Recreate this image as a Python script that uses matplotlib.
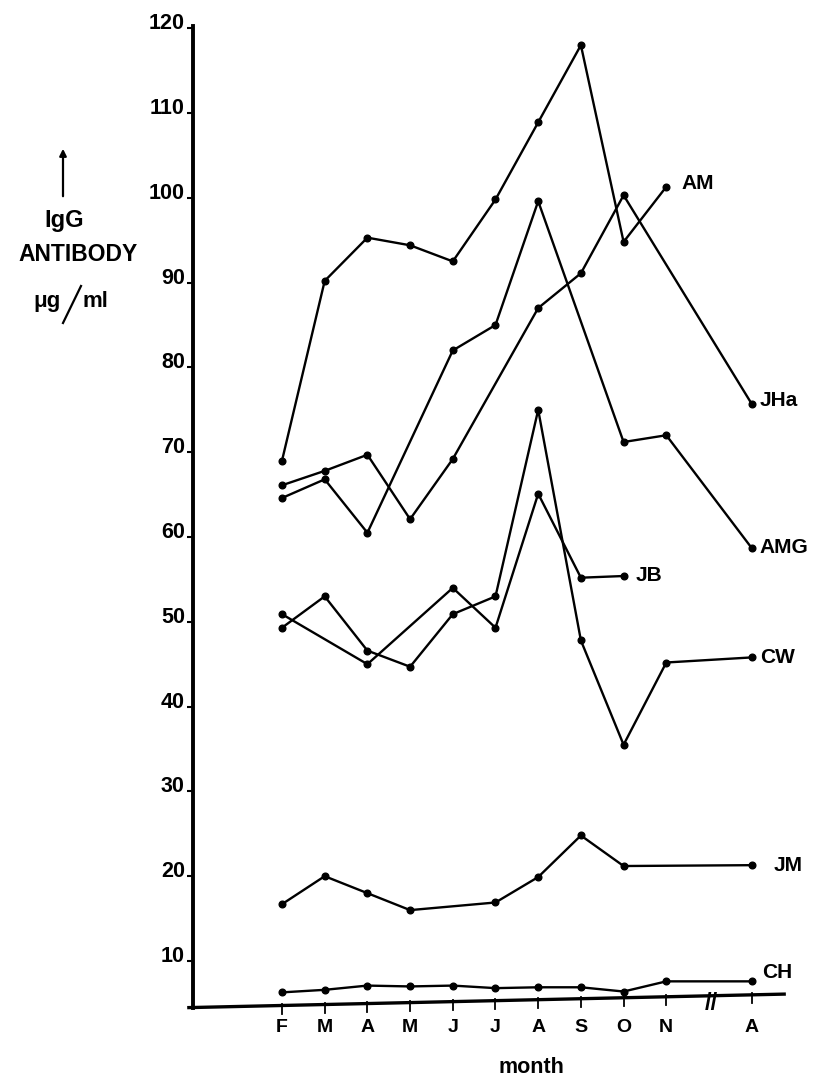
import matplotlib
matplotlib.use("Agg")
import matplotlib.pyplot as plt
from matplotlib.transforms import ScaledTranslation

plt.rcParams['font.family'] = ['Liberation Sans', 'DejaVu Sans']
plt.rcParams['font.weight'] = 'bold'

# ---- data ----
month_labels = ["F", "M", "A", "M", "J", "J", "A", "S", "O", "N", "A"]
month_pos = [0, 1, 2, 3, 4, 5, 6, 7, 8, 9, 11]
y_ticks = [10, 20, 30, 40, 50, 60, 70, 80, 90, 100, 110, 120]

am_x = [0, 1, 2, 3, 4, 5, 6, 7, 8, 9]
am_y = [69.0, 90.2, 95.3, 94.4, 92.5, 99.8, 108.9, 118.0, 94.8, 101.3]
jha_x = [0, 1, 2, 3, 4, 6, 7, 8, 11]
jha_y = [66.1, 67.8, 69.7, 62.1, 69.2, 87.0, 91.1, 100.3, 75.7]
amg_x = [0, 1, 2, 4, 5, 6, 8, 9, 11]
amg_y = [64.6, 66.8, 60.5, 82.0, 85.0, 99.6, 71.2, 72.0, 58.7]
jb_x = [0, 2, 4, 5, 6, 7, 8]
jb_y = [50.9, 45.0, 54.0, 49.3, 65.1, 55.2, 55.4]
cw_x = [0, 1, 2, 3, 4, 5, 6, 7, 8, 9, 11]
cw_y = [49.3, 53.0, 46.6, 44.7, 50.9, 53.0, 75.0, 47.8, 35.5, 45.2, 45.8]
jm_x = [0, 1, 2, 3, 5, 6, 7, 8, 11]
jm_y = [16.7, 20.0, 18.0, 16.0, 16.9, 19.9, 24.8, 21.2, 21.3]
ch_x = [0, 1, 2, 3, 4, 5, 6, 7, 8, 9, 11]
ch_y = [6.3, 6.6, 7.1, 7.0, 7.1, 6.8, 6.9, 6.9, 6.4, 7.6, 7.6]

series = [
    ("AM", am_x, am_y, (15, 3)),
    ("JHa", jha_x, jha_y, (8, 3)),
    ("AMG", amg_x, amg_y, (8, 1)),
    ("JB", jb_x, jb_y, (12, 1)),
    ("CW", cw_x, cw_y, (8, 0)),
    ("JM", jm_x, jm_y, (22, 0)),
    ("CH", ch_x, ch_y, (10, 9)),
]

W, H = 817, 1080
fig = plt.figure(figsize=(W / 100, H / 100), dpi=100)
ax = fig.add_axes([0.2145, 0.03167, 0.78396, 0.95792])
ax.set_xlim(-2.5, 12.5)
ax.set_ylim(0, 122)

for name, xs, ys, (dx, dy) in series:
    ax.plot(xs, ys, color='black', lw=1.7, marker='o', ms=4.8, solid_joinstyle='miter')
    ax.annotate(name, xy=(xs[-1], ys[-1]), xytext=(dx, dy), textcoords='offset pixels',
                ha='left', va='center', fontsize=15, fontweight='bold')

# y axis
for s in ['top', 'right', 'bottom']:
    ax.spines[s].set_visible(False)
ax.spines['left'].set_position(('data', -2.08))
ax.spines['left'].set_bounds(4.5, 120.3)
ax.spines['left'].set_linewidth(2.8)
ax.set_yticks(y_ticks)
ax.set_yticklabels([str(v) for v in y_ticks], fontsize=15.5, fontweight='bold')
ax.tick_params(axis='y', direction='out', length=4, width=1.5, pad=2)
for lab in ax.get_yticklabels():
    lab.set_transform(lab.get_transform() + ScaledTranslation(0, 5 / 72, fig.dpi_scale_trans))

# slanted x axis
x0, y0, x1, y1 = -2.22, 4.5, 11.8, 6.1
ax.plot([x0, x1], [y0, y1], color='black', lw=2.4, clip_on=False, solid_capstyle='butt')

def axis_y(x):
    return y0 + (x - x0) * (y1 - y0) / (x1 - x0)

for p in month_pos:
    ax.plot([p, p], [axis_y(p) + 0.2, axis_y(p) - 1.0], color='black', lw=1.3, clip_on=False)
ax.text(10.05, axis_y(10) - 0.9, "//", ha='center', va='center', fontsize=17,
        fontweight='bold')

ax.set_xticks(month_pos)
ax.set_xticklabels(month_labels, fontsize=14, fontweight='bold')
ax.tick_params(axis='x', length=0, pad=-19)

ax.set_xlabel("month", fontsize=15.5, fontweight='bold')
ax.xaxis.set_label_coords(0.5554, -0.0108)

# y label block
def fx(px):
    return px / W

def fy(py):
    return 1 - py / H

ax.annotate('', xy=(fx(63), fy(146)), xytext=(fx(63), fy(199)), xycoords='figure fraction',
            textcoords='figure fraction',
            arrowprops=dict(arrowstyle='-|>', lw=1.6, color='black', mutation_scale=10))
fig.text(fx(64), fy(227), "IgG", ha='center', va='baseline', fontsize=17, fontweight='bold')
fig.text(fx(78), fy(261), "ANTIBODY", ha='center', va='baseline', fontsize=16.5, fontweight='bold')
fig.text(fx(61), fy(307), "μg", ha='right', va='baseline', fontsize=16, fontweight='bold')
fig.text(fx(82), fy(307), "ml", ha='left', va='baseline', fontsize=16, fontweight='bold')
fig.add_artist(plt.Line2D([fx(63), fx(81)], [fy(323), fy(286)], transform=fig.transFigure,
                          color='black', lw=1.6))

fig.savefig("out.png", dpi=100, facecolor='white')
